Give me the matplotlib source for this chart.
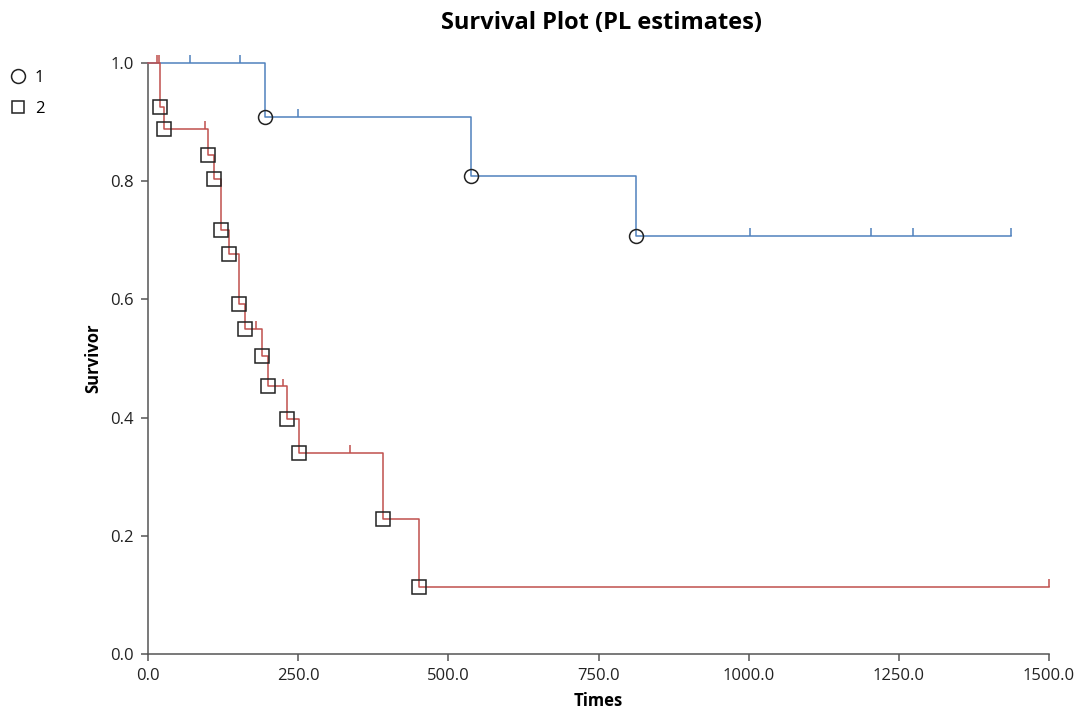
import numpy as np
import matplotlib.pyplot as plt
from matplotlib.lines import Line2D

plt.rcParams['font.family'] = ['Open Sans', 'DejaVu Sans']

# group 1 (blue) - product-limit steps
g1_event_times = [195, 538, 812]
g1_event_surv = [0.909, 0.808, 0.707]
g1_censor_times = [70, 153, 250, 1002, 1204, 1274, 1437]
g1_end = 1437

# group 2 (red)
g2_event_times = [20, 27, 100, 110, 121, 135, 151, 162, 190, 200, 231, 251, 391, 451]
g2_event_surv = [0.926, 0.889, 0.845, 0.803, 0.718, 0.677, 0.592, 0.550,
                 0.504, 0.453, 0.397, 0.340, 0.228, 0.114]
g2_censor_times = [15, 18, 95, 180, 224, 336, 1500]
g2_end = 1500

group_labels = ['1', '2']
blue = '#4F81BD'
red = '#C0504D'
tick_h = 0.013   # height of censor ticks in survival units


def surv_at(t, ev_t, ev_s):
    s = 1.0
    for et, es in zip(ev_t, ev_s):
        if et <= t:
            s = es
    return s


fig = plt.figure(figsize=(10.89, 7.12), dpi=100)
ax = fig.add_axes([148/1089, 1-654/712, (1049-148)/1089, (654-63)/712])

for ev_t, ev_s, cens, end, col, mk, ms in [
        (g1_event_times, g1_event_surv, g1_censor_times, g1_end, blue, 'o', 10),
        (g2_event_times, g2_event_surv, g2_censor_times, g2_end, red, 's', 10)]:
    xs = [0] + list(ev_t) + [end]
    ys = [1.0] + list(ev_s) + [ev_s[-1]]
    ax.step(xs, ys, where='post', color=col, lw=1.1, clip_on=False, zorder=3)
    cs = [surv_at(c, ev_t, ev_s) for c in cens]
    ax.vlines(cens, cs, np.array(cs) + tick_h, color=col, lw=1.1, clip_on=False, zorder=3)
    ax.plot(ev_t, ev_s, ls='none', marker=mk, ms=ms, mfc='none', mec='#222222',
            mew=1.1, clip_on=False, zorder=4)

ax.set_xlim(0, 1500)
ax.set_ylim(0, 1.0)
ax.set_xticks([0, 250, 500, 750, 1000, 1250, 1500])
ax.set_xticklabels(['0.0', '250.0', '500.0', '750.0', '1000.0', '1250.0', '1500.0'])
ax.set_yticks([0, 0.2, 0.4, 0.6, 0.8, 1.0])
ax.set_yticklabels(['0.0', '0.2', '0.4', '0.6', '0.8', '1.0'])
for s in ['top', 'right']:
    ax.spines[s].set_visible(False)
for s in ['left', 'bottom']:
    ax.spines[s].set_color('#555555')
    ax.spines[s].set_linewidth(1.1)
ax.tick_params(direction='out', length=5, width=1.1, color='#555555',
               labelsize=12, labelcolor='#222222', pad=5)

ax.set_xlabel('Times', fontsize=12, fontweight='bold', labelpad=6)
ax.set_ylabel('Survivor', fontsize=12, fontweight='bold', labelpad=6)
fig.suptitle('Survival Plot (PL estimates)', fontsize=17, fontweight='bold', x=0.552, y=0.985)

handles = [Line2D([], [], ls='none', marker='o', ms=10, mfc='none', mec='#222222', mew=1.1),
           Line2D([], [], ls='none', marker='s', ms=9, mfc='none', mec='#222222', mew=1.1)]
fig.legend(handles, group_labels, loc='upper left', bbox_to_anchor=(0.0, 1-58/712),
           frameon=False, fontsize=12, handlelength=0.8, handletextpad=0.6,
           labelspacing=0.9, borderaxespad=0.3)

fig.savefig('out.png', dpi=100)
